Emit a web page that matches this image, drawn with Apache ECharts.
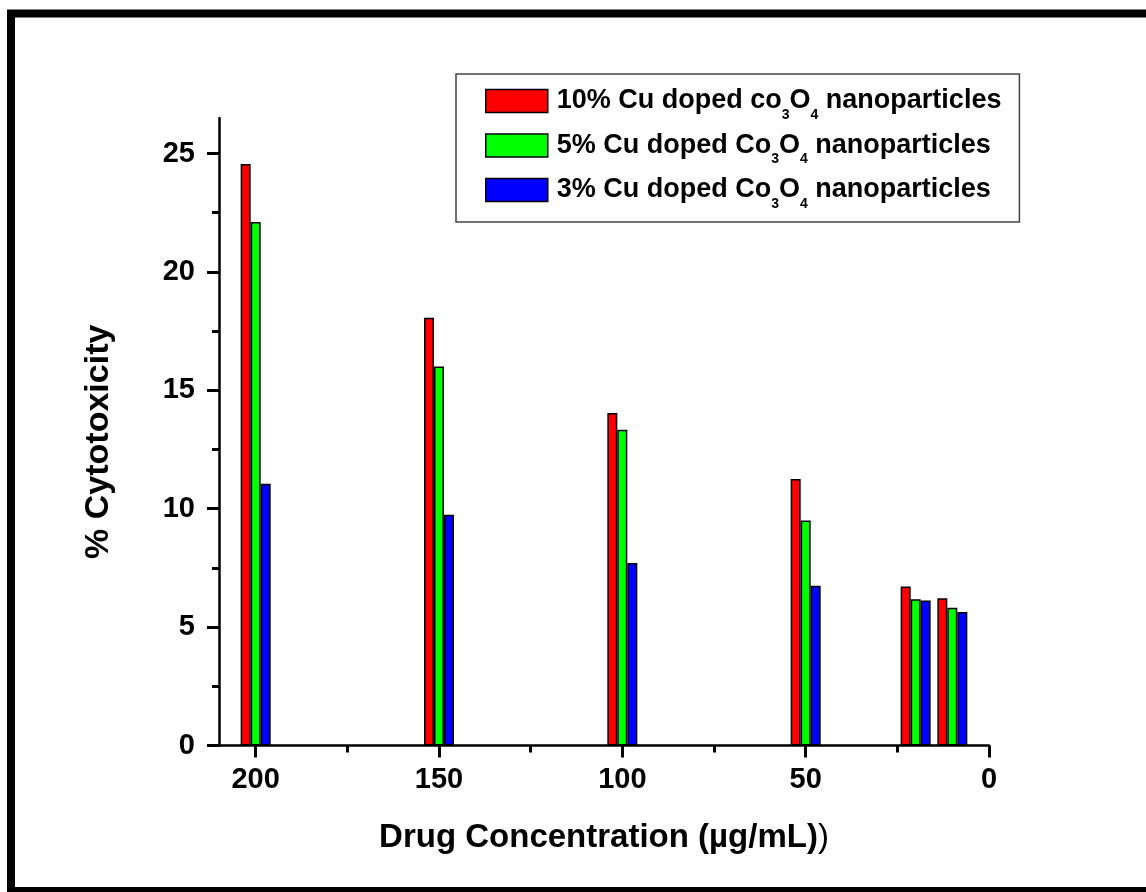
<!DOCTYPE html>
<html>
<head>
<meta charset="utf-8">
<script src="https://cdn.jsdelivr.net/npm/echarts@6/dist/echarts.min.js"></script>
<style>
  html, body { margin: 0; padding: 0; background: #fff; }
  #chart { width: 1146px; height: 892px; }
</style>
</head>
<body>
<div id="chart"></div>
<script>
// drug concentration (µg/mL) of each bar group
const concentrations = [200, 150, 100, 50, 20, 10];
// % cytotoxicity per doping level
const cu10 = [24.56, 18.06, 14.04, 11.25, 6.71, 6.22];
const cu5 = [22.11, 16.01, 13.33, 9.5, 6.18, 5.82];
const cu3 = [11.05, 9.74, 7.71, 6.75, 6.12, 5.64];
const seriesNames = [
  "10% Cu doped co3O4 nanoparticles",
  "5% Cu doped Co3O4 nanoparticles",
  "3% Cu doped Co3O4 nanoparticles",
];
const colors = ["#ff0000", "#00ff00", "#0000ff"];
const yMajorTicks = [0, 5, 10, 15, 20, 25];
const yMinorTicks = [2.5, 7.5, 12.5, 17.5, 22.5];
const xMajorTicks = [0, 50, 100, 150, 200];
const xMinorTicks = [25, 75, 125, 175];

const font = "'Liberation Sans', Arial, sans-serif";
const chart = echarts.init(document.getElementById("chart"));

const pairs = (vals) => concentrations.map((c, i) => [c, vals[i]]);

// "Co3O4" -> rich text with subscripts
const legendText = (name) =>
  name.replace(/^(.*?o)3O4(.*)$/, "{m|$1}{s|3}{m|O}{s|4}{m|$2}");

const tickAxis = {
  axisLine: { show: true, onZero: false, lineStyle: { color: "#000", width: 2.5 } },
  splitLine: { show: false },
};

chart.setOption({
  animation: false,
  backgroundColor: "#fff",
  textStyle: { fontFamily: font },
  graphic: [
    {
      type: "rect",
      shape: { x: 11, y: 13.5, width: 1200, height: 877.5 },
      style: { fill: "none", stroke: "#000", lineWidth: 8 },
      silent: true,
    },
  ],
  grid: { left: 219, right: 157, top: 118, bottom: 146.5 },
  legend: {
    orient: "vertical",
    left: 456,
    top: 74,
    padding: [6, 18, 11, 29],
    itemGap: 2.5,
    itemWidth: 62,
    itemHeight: 23,
    icon: "rect",
    borderColor: "#444",
    borderWidth: 1.5,
    data: seriesNames,
    itemStyle: { borderColor: "#000", borderWidth: 1.5 },
    formatter: legendText,
    textStyle: {
      padding: [0, 0, 0, 4],
      rich: {
        m: {
          fontFamily: font,
          fontWeight: "bold",
          fontSize: 27,
          lineHeight: 42,
          color: "#000",
          verticalAlign: "middle",
        },
        s: {
          fontFamily: font,
          fontWeight: "bold",
          fontSize: 14,
          lineHeight: 14,
          padding: [28, 0, 0, 0],
          color: "#000",
          verticalAlign: "top",
        },
      },
    },
  },
  xAxis: [
    {
      type: "value",
      min: 0,
      max: 210,
      inverse: true,
      ...tickAxis,
      axisTick: {
        show: true,
        customValues: xMajorTicks,
        length: 12,
        lineStyle: { color: "#000", width: 3 },
      },
      axisLabel: {
        customValues: xMajorTicks,
        margin: 20,
        color: "#000",
        fontWeight: "bold",
        fontSize: 29,
        fontFamily: font,
      },
      name: "{b|Drug Concentration (µg/mL)}{n|)}",
      nameLocation: "middle",
      nameGap: 76,
      nameTextStyle: {
        rich: {
          b: { fontFamily: font, fontWeight: "bold", fontSize: 33, color: "#000" },
          n: { fontFamily: font, fontWeight: "normal", fontSize: 33, color: "#000" },
        },
      },
    },
    {
      type: "value",
      min: 0,
      max: 210,
      inverse: true,
      position: "bottom",
      axisLine: { show: false, onZero: false },
      splitLine: { show: false },
      axisTick: {
        show: true,
        customValues: xMinorTicks,
        length: 7,
        lineStyle: { color: "#000", width: 3 },
      },
      axisLabel: { show: false },
    },
  ],
  yAxis: [
    {
      type: "value",
      min: 0,
      max: 26.5,
      position: "left",
      ...tickAxis,
      axisTick: {
        show: true,
        customValues: yMajorTicks,
        length: 12,
        lineStyle: { color: "#000", width: 3 },
      },
      axisLabel: {
        customValues: yMajorTicks,
        margin: 24,
        color: "#000",
        fontWeight: "bold",
        fontSize: 29,
        fontFamily: font,
      },
      name: "% Cytotoxicity",
      nameLocation: "middle",
      nameGap: 103,
      nameTextStyle: {
        color: "#000",
        fontWeight: "bold",
        fontSize: 34,
        fontFamily: font,
        padding: [0, 20, 0, 0],
      },
    },
    {
      type: "value",
      min: 0,
      max: 26.5,
      position: "left",
      axisLine: { show: false, onZero: false },
      splitLine: { show: false },
      axisTick: {
        show: true,
        customValues: yMinorTicks,
        length: 7,
        lineStyle: { color: "#000", width: 3 },
      },
      axisLabel: { show: false },
    },
  ],
  series: [cu10, cu5, cu3].map((vals, i) => ({
    name: seriesNames[i],
    type: "bar",
    xAxisIndex: 0,
    yAxisIndex: 0,
    barWidth: 10,
    barGap: "0%",
    data: pairs(vals),
    itemStyle: { color: colors[i], borderColor: "#000", borderWidth: 1.5 },
  })),
});
</script>
</body>
</html>
